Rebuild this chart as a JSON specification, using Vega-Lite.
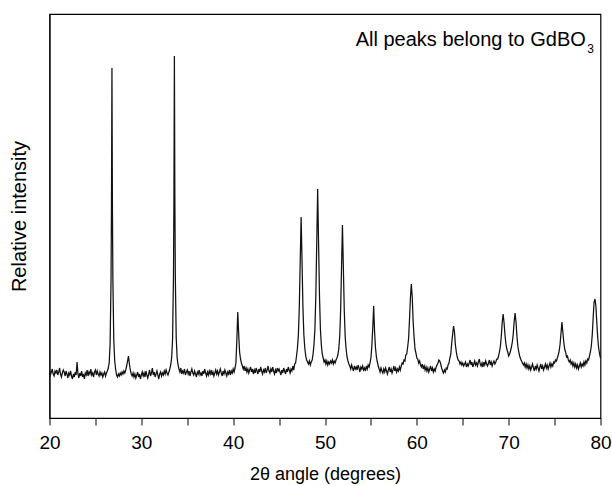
{
  "$schema": "https://vega.github.io/schema/vega-lite/v6.json",
  "width": 551,
  "height": 404,
  "autosize": {"type": "none"},
  "padding": {"left": 49.5, "top": 14, "right": 11.5, "bottom": 68},
  "background": "white",
  "config": {
    "view": {"stroke": "black", "strokeWidth": 1.2},
    "font": "Liberation Sans"
  },
  "datasets": {
    "xrd": [
      {"angle":20.0,"intensity":47},{"angle":20.1,"intensity":43},{"angle":20.2,"intensity":46},{"angle":20.3,"intensity":49},{"angle":20.4,"intensity":44},{"angle":20.5,"intensity":42},{"angle":20.6,"intensity":47},{"angle":20.7,"intensity":45},{"angle":20.8,"intensity":48},{"angle":20.9,"intensity":43},
      {"angle":21.0,"intensity":46},{"angle":21.1,"intensity":50},{"angle":21.2,"intensity":44},{"angle":21.3,"intensity":41},{"angle":21.4,"intensity":45},{"angle":21.5,"intensity":48},{"angle":21.6,"intensity":46},{"angle":21.7,"intensity":42},{"angle":21.8,"intensity":47},{"angle":21.9,"intensity":44},
      {"angle":22.0,"intensity":40},{"angle":22.1,"intensity":45},{"angle":22.2,"intensity":43},{"angle":22.3,"intensity":47},{"angle":22.4,"intensity":42},{"angle":22.5,"intensity":39},{"angle":22.6,"intensity":44},{"angle":22.7,"intensity":41},{"angle":22.8,"intensity":46},{"angle":22.9,"intensity":43},
      {"angle":23.0,"intensity":56},{"angle":23.1,"intensity":44},{"angle":23.2,"intensity":40},{"angle":23.3,"intensity":45},{"angle":23.4,"intensity":42},{"angle":23.5,"intensity":47},{"angle":23.6,"intensity":41},{"angle":23.7,"intensity":44},{"angle":23.8,"intensity":39},{"angle":23.9,"intensity":45},
      {"angle":24.0,"intensity":43},{"angle":24.1,"intensity":48},{"angle":24.2,"intensity":42},{"angle":24.3,"intensity":46},{"angle":24.4,"intensity":44},{"angle":24.5,"intensity":49},{"angle":24.6,"intensity":43},{"angle":24.7,"intensity":45},{"angle":24.8,"intensity":41},{"angle":24.9,"intensity":46},
      {"angle":25.0,"intensity":48},{"angle":25.1,"intensity":43},{"angle":25.2,"intensity":47},{"angle":25.3,"intensity":44},{"angle":25.4,"intensity":42},{"angle":25.5,"intensity":46},{"angle":25.6,"intensity":43},{"angle":25.7,"intensity":45},{"angle":25.8,"intensity":41},{"angle":25.9,"intensity":44},
      {"angle":26.0,"intensity":46},{"angle":26.1,"intensity":42},{"angle":26.2,"intensity":45},{"angle":26.3,"intensity":47},{"angle":26.4,"intensity":50},{"angle":26.5,"intensity":55},{"angle":26.6,"intensity":74},{"angle":26.7,"intensity":137},{"angle":26.75,"intensity":213},{"angle":26.8,"intensity":350},{"angle":26.85,"intensity":215},{"angle":26.9,"intensity":140},
      {"angle":27.0,"intensity":78},{"angle":27.1,"intensity":57},{"angle":27.2,"intensity":49},{"angle":27.3,"intensity":43},{"angle":27.4,"intensity":41},{"angle":27.5,"intensity":44},{"angle":27.6,"intensity":42},{"angle":27.7,"intensity":45},{"angle":27.8,"intensity":43},{"angle":27.9,"intensity":46},
      {"angle":28.0,"intensity":44},{"angle":28.1,"intensity":47},{"angle":28.2,"intensity":45},{"angle":28.3,"intensity":48},{"angle":28.4,"intensity":52},{"angle":28.5,"intensity":57},{"angle":28.6,"intensity":62},{"angle":28.7,"intensity":54},{"angle":28.8,"intensity":48},{"angle":28.9,"intensity":44},
      {"angle":29.0,"intensity":42},{"angle":29.1,"intensity":45},{"angle":29.2,"intensity":41},{"angle":29.3,"intensity":44},{"angle":29.4,"intensity":40},{"angle":29.5,"intensity":43},{"angle":29.6,"intensity":46},{"angle":29.7,"intensity":41},{"angle":29.8,"intensity":44},{"angle":29.9,"intensity":39},
      {"angle":30.0,"intensity":43},{"angle":30.1,"intensity":46},{"angle":30.2,"intensity":42},{"angle":30.3,"intensity":45},{"angle":30.4,"intensity":41},{"angle":30.5,"intensity":47},{"angle":30.6,"intensity":43},{"angle":30.7,"intensity":40},{"angle":30.8,"intensity":44},{"angle":30.9,"intensity":48},
      {"angle":31.0,"intensity":42},{"angle":31.1,"intensity":45},{"angle":31.2,"intensity":50},{"angle":31.3,"intensity":43},{"angle":31.4,"intensity":46},{"angle":31.5,"intensity":41},{"angle":31.6,"intensity":44},{"angle":31.7,"intensity":47},{"angle":31.8,"intensity":43},{"angle":31.9,"intensity":39},
      {"angle":32.0,"intensity":44},{"angle":32.1,"intensity":46},{"angle":32.2,"intensity":42},{"angle":32.3,"intensity":45},{"angle":32.4,"intensity":43},{"angle":32.5,"intensity":47},{"angle":32.6,"intensity":44},{"angle":32.7,"intensity":48},{"angle":32.8,"intensity":45},{"angle":32.9,"intensity":43},
      {"angle":33.0,"intensity":46},{"angle":33.1,"intensity":49},{"angle":33.2,"intensity":53},{"angle":33.3,"intensity":60},{"angle":33.4,"intensity":78},{"angle":33.5,"intensity":141},{"angle":33.55,"intensity":220},{"angle":33.6,"intensity":362},{"angle":33.65,"intensity":222},{"angle":33.7,"intensity":142},{"angle":33.8,"intensity":80},{"angle":33.9,"intensity":60},
      {"angle":34.0,"intensity":53},{"angle":34.1,"intensity":49},{"angle":34.2,"intensity":46},{"angle":34.3,"intensity":50},{"angle":34.4,"intensity":44},{"angle":34.5,"intensity":47},{"angle":34.6,"intensity":45},{"angle":34.7,"intensity":49},{"angle":34.8,"intensity":43},{"angle":34.9,"intensity":46},
      {"angle":35.0,"intensity":48},{"angle":35.1,"intensity":44},{"angle":35.2,"intensity":47},{"angle":35.3,"intensity":42},{"angle":35.4,"intensity":46},{"angle":35.5,"intensity":49},{"angle":35.6,"intensity":45},{"angle":35.7,"intensity":43},{"angle":35.8,"intensity":47},{"angle":35.9,"intensity":44},
      {"angle":36.0,"intensity":41},{"angle":36.1,"intensity":46},{"angle":36.2,"intensity":44},{"angle":36.3,"intensity":48},{"angle":36.4,"intensity":43},{"angle":36.5,"intensity":45},{"angle":36.6,"intensity":42},{"angle":36.7,"intensity":47},{"angle":36.8,"intensity":44},{"angle":36.9,"intensity":49},
      {"angle":37.0,"intensity":45},{"angle":37.1,"intensity":42},{"angle":37.2,"intensity":46},{"angle":37.3,"intensity":43},{"angle":37.4,"intensity":47},{"angle":37.5,"intensity":44},{"angle":37.6,"intensity":48},{"angle":37.7,"intensity":43},{"angle":37.8,"intensity":46},{"angle":37.9,"intensity":42},
      {"angle":38.0,"intensity":45},{"angle":38.1,"intensity":48},{"angle":38.2,"intensity":44},{"angle":38.3,"intensity":47},{"angle":38.4,"intensity":43},{"angle":38.5,"intensity":46},{"angle":38.6,"intensity":49},{"angle":38.7,"intensity":45},{"angle":38.8,"intensity":42},{"angle":38.9,"intensity":47},
      {"angle":39.0,"intensity":44},{"angle":39.1,"intensity":48},{"angle":39.2,"intensity":45},{"angle":39.3,"intensity":42},{"angle":39.4,"intensity":46},{"angle":39.5,"intensity":44},{"angle":39.6,"intensity":48},{"angle":39.7,"intensity":43},{"angle":39.8,"intensity":47},{"angle":39.9,"intensity":45},
      {"angle":40.0,"intensity":49},{"angle":40.1,"intensity":46},{"angle":40.2,"intensity":50},{"angle":40.3,"intensity":55},{"angle":40.4,"intensity":78},{"angle":40.5,"intensity":106},{"angle":40.6,"intensity":84},{"angle":40.7,"intensity":66},{"angle":40.8,"intensity":59},{"angle":40.9,"intensity":55},
      {"angle":41.0,"intensity":52},{"angle":41.1,"intensity":49},{"angle":41.2,"intensity":52},{"angle":41.3,"intensity":47},{"angle":41.4,"intensity":50},{"angle":41.5,"intensity":46},{"angle":41.6,"intensity":49},{"angle":41.7,"intensity":45},{"angle":41.8,"intensity":48},{"angle":41.9,"intensity":51},
      {"angle":42.0,"intensity":46},{"angle":42.1,"intensity":49},{"angle":42.2,"intensity":44},{"angle":42.3,"intensity":48},{"angle":42.4,"intensity":45},{"angle":42.5,"intensity":50},{"angle":42.6,"intensity":47},{"angle":42.7,"intensity":44},{"angle":42.8,"intensity":49},{"angle":42.9,"intensity":46},
      {"angle":43.0,"intensity":51},{"angle":43.1,"intensity":47},{"angle":43.2,"intensity":44},{"angle":43.3,"intensity":48},{"angle":43.4,"intensity":46},{"angle":43.5,"intensity":50},{"angle":43.6,"intensity":45},{"angle":43.7,"intensity":48},{"angle":43.8,"intensity":52},{"angle":43.9,"intensity":47},
      {"angle":44.0,"intensity":45},{"angle":44.1,"intensity":49},{"angle":44.2,"intensity":46},{"angle":44.3,"intensity":51},{"angle":44.4,"intensity":47},{"angle":44.5,"intensity":44},{"angle":44.6,"intensity":48},{"angle":44.7,"intensity":45},{"angle":44.8,"intensity":50},{"angle":44.9,"intensity":47},
      {"angle":45.0,"intensity":49},{"angle":45.1,"intensity":46},{"angle":45.2,"intensity":43},{"angle":45.3,"intensity":48},{"angle":45.4,"intensity":45},{"angle":45.5,"intensity":50},{"angle":45.6,"intensity":47},{"angle":45.7,"intensity":44},{"angle":45.8,"intensity":49},{"angle":45.9,"intensity":46},
      {"angle":46.0,"intensity":51},{"angle":46.1,"intensity":48},{"angle":46.2,"intensity":45},{"angle":46.3,"intensity":49},{"angle":46.4,"intensity":47},{"angle":46.5,"intensity":52},{"angle":46.6,"intensity":48},{"angle":46.7,"intensity":54},{"angle":46.8,"intensity":55},{"angle":46.9,"intensity":62},
      {"angle":47.0,"intensity":70},{"angle":47.1,"intensity":83},{"angle":47.2,"intensity":110},{"angle":47.3,"intensity":156},{"angle":47.4,"intensity":201},{"angle":47.5,"intensity":156},{"angle":47.6,"intensity":110},{"angle":47.7,"intensity":83},{"angle":47.8,"intensity":70},{"angle":47.9,"intensity":62},
      {"angle":48.0,"intensity":58},{"angle":48.1,"intensity":56},{"angle":48.2,"intensity":54},{"angle":48.3,"intensity":57},{"angle":48.4,"intensity":53},{"angle":48.5,"intensity":56},{"angle":48.6,"intensity":58},{"angle":48.7,"intensity":64},{"angle":48.8,"intensity":73},{"angle":48.9,"intensity":89},
      {"angle":49.0,"intensity":122},{"angle":49.1,"intensity":175},{"angle":49.2,"intensity":229},{"angle":49.3,"intensity":175},{"angle":49.4,"intensity":122},{"angle":49.5,"intensity":89},{"angle":49.6,"intensity":73},{"angle":49.7,"intensity":64},{"angle":49.8,"intensity":60},{"angle":49.9,"intensity":56},
      {"angle":50.0,"intensity":58},{"angle":50.1,"intensity":54},{"angle":50.2,"intensity":57},{"angle":50.3,"intensity":53},{"angle":50.4,"intensity":56},{"angle":50.5,"intensity":54},{"angle":50.6,"intensity":57},{"angle":50.7,"intensity":55},{"angle":50.8,"intensity":58},{"angle":50.9,"intensity":54},
      {"angle":51.0,"intensity":57},{"angle":51.1,"intensity":55},{"angle":51.2,"intensity":58},{"angle":51.3,"intensity":60},{"angle":51.4,"intensity":63},{"angle":51.5,"intensity":69},{"angle":51.6,"intensity":81},{"angle":51.7,"intensity":107},{"angle":51.8,"intensity":150},{"angle":51.9,"intensity":193},
      {"angle":52.0,"intensity":150},{"angle":52.1,"intensity":107},{"angle":52.2,"intensity":81},{"angle":52.3,"intensity":69},{"angle":52.4,"intensity":61},{"angle":52.5,"intensity":57},{"angle":52.6,"intensity":54},{"angle":52.7,"intensity":52},{"angle":52.8,"intensity":49},{"angle":52.9,"intensity":53},
      {"angle":53.0,"intensity":50},{"angle":53.1,"intensity":47},{"angle":53.2,"intensity":52},{"angle":53.3,"intensity":49},{"angle":53.4,"intensity":51},{"angle":53.5,"intensity":48},{"angle":53.6,"intensity":53},{"angle":53.7,"intensity":50},{"angle":53.8,"intensity":46},{"angle":53.9,"intensity":51},
      {"angle":54.0,"intensity":49},{"angle":54.1,"intensity":52},{"angle":54.2,"intensity":48},{"angle":54.3,"intensity":50},{"angle":54.4,"intensity":47},{"angle":54.5,"intensity":52},{"angle":54.6,"intensity":49},{"angle":54.7,"intensity":53},{"angle":54.8,"intensity":51},{"angle":54.9,"intensity":55},
      {"angle":55.0,"intensity":60},{"angle":55.1,"intensity":72},{"angle":55.2,"intensity":90},{"angle":55.3,"intensity":112},{"angle":55.4,"intensity":86},{"angle":55.5,"intensity":70},{"angle":55.6,"intensity":61},{"angle":55.7,"intensity":56},{"angle":55.8,"intensity":52},{"angle":55.9,"intensity":49},
      {"angle":56.0,"intensity":46},{"angle":56.1,"intensity":50},{"angle":56.2,"intensity":47},{"angle":56.3,"intensity":45},{"angle":56.4,"intensity":49},{"angle":56.5,"intensity":46},{"angle":56.6,"intensity":50},{"angle":56.7,"intensity":47},{"angle":56.8,"intensity":44},{"angle":56.9,"intensity":48},
      {"angle":57.0,"intensity":51},{"angle":57.1,"intensity":46},{"angle":57.2,"intensity":49},{"angle":57.3,"intensity":45},{"angle":57.4,"intensity":48},{"angle":57.5,"intensity":52},{"angle":57.6,"intensity":47},{"angle":57.7,"intensity":50},{"angle":57.8,"intensity":46},{"angle":57.9,"intensity":49},
      {"angle":58.0,"intensity":47},{"angle":58.1,"intensity":51},{"angle":58.2,"intensity":48},{"angle":58.3,"intensity":52},{"angle":58.4,"intensity":55},{"angle":58.5,"intensity":54},{"angle":58.6,"intensity":58},{"angle":58.7,"intensity":57},{"angle":58.8,"intensity":63},{"angle":58.9,"intensity":64},
      {"angle":59.0,"intensity":71},{"angle":59.1,"intensity":79},{"angle":59.2,"intensity":98},{"angle":59.3,"intensity":120},{"angle":59.4,"intensity":134},{"angle":59.5,"intensity":121},{"angle":59.6,"intensity":96},{"angle":59.7,"intensity":81},{"angle":59.8,"intensity":69},{"angle":59.9,"intensity":65},
      {"angle":60.0,"intensity":60},{"angle":60.1,"intensity":59},{"angle":60.2,"intensity":55},{"angle":60.3,"intensity":57},{"angle":60.4,"intensity":53},{"angle":60.5,"intensity":51},{"angle":60.6,"intensity":54},{"angle":60.7,"intensity":49},{"angle":60.8,"intensity":52},{"angle":60.9,"intensity":48},
      {"angle":61.0,"intensity":51},{"angle":61.1,"intensity":47},{"angle":61.2,"intensity":50},{"angle":61.3,"intensity":46},{"angle":61.4,"intensity":49},{"angle":61.5,"intensity":52},{"angle":61.6,"intensity":47},{"angle":61.7,"intensity":50},{"angle":61.8,"intensity":46},{"angle":61.9,"intensity":49},
      {"angle":62.0,"intensity":47},{"angle":62.1,"intensity":51},{"angle":62.2,"intensity":53},{"angle":62.3,"intensity":55},{"angle":62.4,"intensity":58},{"angle":62.5,"intensity":57},{"angle":62.6,"intensity":54},{"angle":62.7,"intensity":50},{"angle":62.8,"intensity":47},{"angle":62.9,"intensity":45},
      {"angle":63.0,"intensity":48},{"angle":63.1,"intensity":46},{"angle":63.2,"intensity":50},{"angle":63.3,"intensity":49},{"angle":63.4,"intensity":53},{"angle":63.5,"intensity":55},{"angle":63.6,"intensity":60},{"angle":63.7,"intensity":64},{"angle":63.8,"intensity":75},{"angle":63.9,"intensity":84},
      {"angle":64.0,"intensity":92},{"angle":64.1,"intensity":86},{"angle":64.2,"intensity":73},{"angle":64.3,"intensity":66},{"angle":64.4,"intensity":61},{"angle":64.5,"intensity":58},{"angle":64.6,"intensity":57},{"angle":64.7,"intensity":54},{"angle":64.8,"intensity":56},{"angle":64.9,"intensity":53},
      {"angle":65.0,"intensity":55},{"angle":65.1,"intensity":52},{"angle":65.2,"intensity":54},{"angle":65.3,"intensity":56},{"angle":65.4,"intensity":51},{"angle":65.5,"intensity":54},{"angle":65.6,"intensity":52},{"angle":65.7,"intensity":55},{"angle":65.8,"intensity":58},{"angle":65.9,"intensity":53},
      {"angle":66.0,"intensity":56},{"angle":66.1,"intensity":51},{"angle":66.2,"intensity":54},{"angle":66.3,"intensity":57},{"angle":66.4,"intensity":53},{"angle":66.5,"intensity":55},{"angle":66.6,"intensity":52},{"angle":66.7,"intensity":56},{"angle":66.8,"intensity":59},{"angle":66.9,"intensity":54},
      {"angle":67.0,"intensity":52},{"angle":67.1,"intensity":55},{"angle":67.2,"intensity":51},{"angle":67.3,"intensity":56},{"angle":67.4,"intensity":53},{"angle":67.5,"intensity":57},{"angle":67.6,"intensity":54},{"angle":67.7,"intensity":52},{"angle":67.8,"intensity":55},{"angle":67.9,"intensity":58},
      {"angle":68.0,"intensity":53},{"angle":68.1,"intensity":56},{"angle":68.2,"intensity":52},{"angle":68.3,"intensity":55},{"angle":68.4,"intensity":57},{"angle":68.5,"intensity":54},{"angle":68.6,"intensity":56},{"angle":68.7,"intensity":59},{"angle":68.8,"intensity":59},{"angle":68.9,"intensity":62},
      {"angle":69.0,"intensity":66},{"angle":69.1,"intensity":72},{"angle":69.2,"intensity":82},{"angle":69.3,"intensity":96},{"angle":69.4,"intensity":104},{"angle":69.5,"intensity":95},{"angle":69.6,"intensity":83},{"angle":69.7,"intensity":74},{"angle":69.8,"intensity":69},{"angle":69.9,"intensity":66},
      {"angle":70.0,"intensity":62},{"angle":70.1,"intensity":64},{"angle":70.2,"intensity":67},{"angle":70.3,"intensity":71},{"angle":70.4,"intensity":76},{"angle":70.5,"intensity":84},{"angle":70.6,"intensity":97},{"angle":70.7,"intensity":105},{"angle":70.8,"intensity":96},{"angle":70.9,"intensity":82},
      {"angle":71.0,"intensity":72},{"angle":71.1,"intensity":66},{"angle":71.2,"intensity":62},{"angle":71.3,"intensity":59},{"angle":71.4,"intensity":57},{"angle":71.5,"intensity":55},{"angle":71.6,"intensity":53},{"angle":71.7,"intensity":55},{"angle":71.8,"intensity":51},{"angle":71.9,"intensity":54},
      {"angle":72.0,"intensity":50},{"angle":72.1,"intensity":53},{"angle":72.2,"intensity":49},{"angle":72.3,"intensity":52},{"angle":72.4,"intensity":48},{"angle":72.5,"intensity":51},{"angle":72.6,"intensity":54},{"angle":72.7,"intensity":50},{"angle":72.8,"intensity":47},{"angle":72.9,"intensity":52},
      {"angle":73.0,"intensity":49},{"angle":73.1,"intensity":53},{"angle":73.2,"intensity":50},{"angle":73.3,"intensity":47},{"angle":73.4,"intensity":51},{"angle":73.5,"intensity":54},{"angle":73.6,"intensity":49},{"angle":73.7,"intensity":52},{"angle":73.8,"intensity":48},{"angle":73.9,"intensity":51},
      {"angle":74.0,"intensity":54},{"angle":74.1,"intensity":50},{"angle":74.2,"intensity":53},{"angle":74.3,"intensity":49},{"angle":74.4,"intensity":52},{"angle":74.5,"intensity":55},{"angle":74.6,"intensity":51},{"angle":74.7,"intensity":54},{"angle":74.8,"intensity":52},{"angle":74.9,"intensity":56},
      {"angle":75.0,"intensity":55},{"angle":75.1,"intensity":58},{"angle":75.2,"intensity":57},{"angle":75.3,"intensity":60},{"angle":75.4,"intensity":63},{"angle":75.5,"intensity":67},{"angle":75.6,"intensity":74},{"angle":75.7,"intensity":85},{"angle":75.8,"intensity":96},{"angle":75.9,"intensity":86},
      {"angle":76.0,"intensity":76},{"angle":76.1,"intensity":69},{"angle":76.2,"intensity":66},{"angle":76.3,"intensity":61},{"angle":76.4,"intensity":62},{"angle":76.5,"intensity":58},{"angle":76.6,"intensity":56},{"angle":76.7,"intensity":58},{"angle":76.8,"intensity":54},{"angle":76.9,"intensity":56},
      {"angle":77.0,"intensity":52},{"angle":77.1,"intensity":55},{"angle":77.2,"intensity":51},{"angle":77.3,"intensity":54},{"angle":77.4,"intensity":50},{"angle":77.5,"intensity":53},{"angle":77.6,"intensity":49},{"angle":77.7,"intensity":52},{"angle":77.8,"intensity":55},{"angle":77.9,"intensity":51},
      {"angle":78.0,"intensity":54},{"angle":78.1,"intensity":52},{"angle":78.2,"intensity":56},{"angle":78.3,"intensity":53},{"angle":78.4,"intensity":57},{"angle":78.5,"intensity":55},{"angle":78.6,"intensity":59},{"angle":78.7,"intensity":58},{"angle":78.8,"intensity":62},{"angle":78.9,"intensity":66},
      {"angle":79.0,"intensity":72},{"angle":79.1,"intensity":83},{"angle":79.2,"intensity":100},{"angle":79.3,"intensity":116},{"angle":79.4,"intensity":119},{"angle":79.5,"intensity":112},{"angle":79.6,"intensity":95},{"angle":79.7,"intensity":80},{"angle":79.8,"intensity":70},{"angle":79.9,"intensity":64},
      {"angle":80.0,"intensity":60}
    ],
    "noteMain": [{"angle": 78.4, "intensity": 372, "label": "All peaks belong to GdBO"}],
    "noteSub": [{"angle": 78.55, "intensity": 365, "label": "3"}]
  },
  "layer": [
    {
      "data": {"name": "xrd"},
      "mark": {"type": "line", "color": "#111111", "strokeWidth": 1.25},
      "encoding": {
        "x": {
          "field": "angle", "type": "quantitative",
          "scale": {"domain": [20, 80], "nice": false, "zero": false},
          "axis": {
            "title": "2θ angle (degrees)",
            "values": [20, 25, 30, 35, 40, 45, 50, 55, 60, 65, 70, 75, 80],
            "labelExpr": "datum.value % 10 === 0 ? datum.label : ''",
            "grid": false,
            "tickSize": 7,
            "tickColor": "black",
            "domainColor": "black",
            "labelColor": "black",
            "titleColor": "black",
            "labelFont": "Liberation Sans",
            "titleFont": "Liberation Sans",
            "labelFontSize": 19,
            "titleFontSize": 18,
            "titleFontWeight": "normal",
            "labelPadding": 8,
            "titlePadding": 13,
            "labelFlush": false,
            "labelOverlap": false
          }
        },
        "y": {
          "field": "intensity", "type": "quantitative",
          "scale": {"domain": [0, 404], "nice": false, "zero": false},
          "axis": {
            "title": "Relative intensity",
            "labels": false,
            "ticks": false,
            "grid": false,
            "domainColor": "black",
            "titleColor": "black",
            "titleFont": "Liberation Sans",
            "titleFontSize": 20,
            "titleFontWeight": "normal",
            "titlePadding": 20
          }
        }
      }
    },
    {
      "data": {"name": "noteMain"},
      "mark": {"type": "text", "align": "right", "baseline": "alphabetic", "fontSize": 20, "font": "Liberation Sans", "color": "black"},
      "encoding": {
        "x": {"field": "angle", "type": "quantitative"},
        "y": {"field": "intensity", "type": "quantitative"},
        "text": {"field": "label"}
      }
    },
    {
      "data": {"name": "noteSub"},
      "mark": {"type": "text", "align": "left", "baseline": "alphabetic", "fontSize": 12, "font": "Liberation Sans", "color": "black"},
      "encoding": {
        "x": {"field": "angle", "type": "quantitative"},
        "y": {"field": "intensity", "type": "quantitative"},
        "text": {"field": "label"}
      }
    }
  ]
}
